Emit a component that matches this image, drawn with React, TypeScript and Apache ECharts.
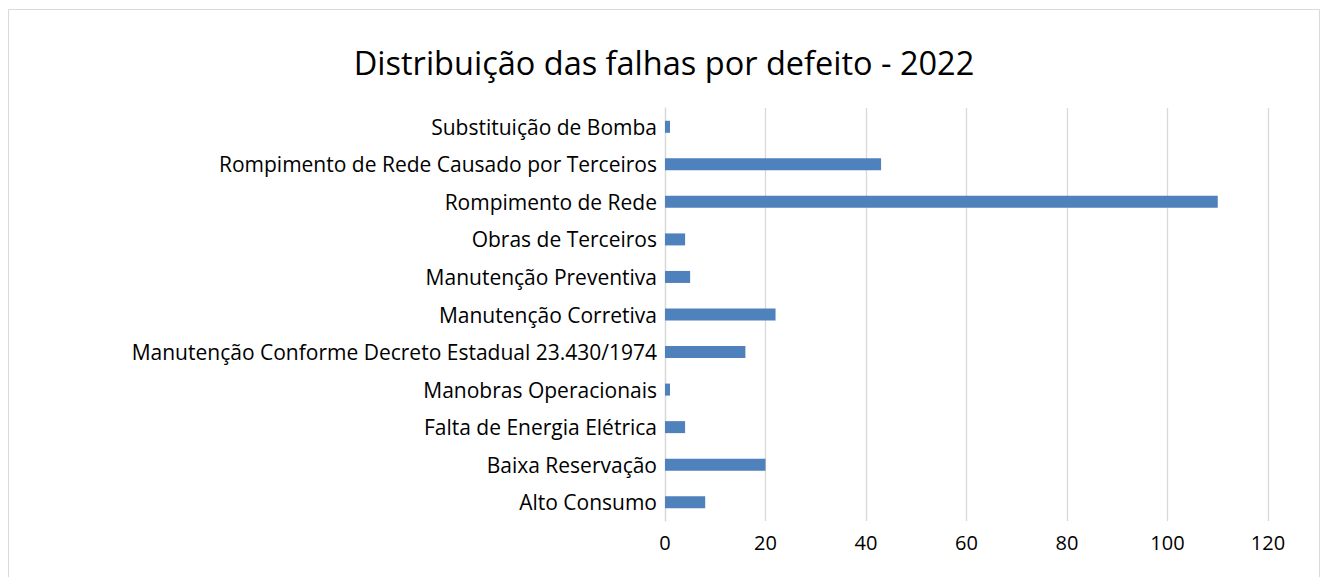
import React, { useEffect, useRef } from "react";
import * as echarts from "echarts";

const categories = [
  "Alto Consumo",
  "Baixa Reservação",
  "Falta de Energia Elétrica",
  "Manobras Operacionais",
  "Manutenção Conforme Decreto Estadual 23.430/1974",
  "Manutenção Corretiva",
  "Manutenção Preventiva",
  "Obras de Terceiros",
  "Rompimento de Rede",
  "Rompimento de Rede Causado por Terceiros",
  "Substituição de Bomba",
];
const values = [8, 20, 4, 1, 16, 22, 5, 4, 110, 43, 1];
const xTicks = { min: 0, max: 120, interval: 20 };
const title = "Distribuição das falhas por defeito - 2022";

export default function App() {
  const ref = useRef<HTMLDivElement>(null);
  useEffect(() => {
    if (!ref.current) return;
    const chart = echarts.init(ref.current, null, { renderer: "svg" });
    const font = "'Open Sans', Lato, sans-serif";
    chart.setOption({
      animation: false,
      textStyle: { fontFamily: font },
      title: {
        text: title,
        left: "center",
        top: 33,
        textStyle: { fontFamily: font, fontSize: 32.5, fontWeight: "normal", color: "#000" },
      },
      graphic: [
        {
          type: "rect",
          shape: { x: 0.5, y: 1.5, width: 1311, height: 600 },
          style: { fill: "none", stroke: "#d9d9d9", lineWidth: 1 },
          silent: true,
        },
      ],
      grid: { left: 657, width: 603, top: 100, height: 413, containLabel: false },
      xAxis: {
        type: "value",
        min: xTicks.min,
        max: xTicks.max,
        interval: xTicks.interval,
        axisLine: { show: false },
        axisTick: { show: false },
        splitLine: { show: true, lineStyle: { color: "#d9d9d9", width: 1.3 } },
        axisLabel: { fontFamily: font, fontSize: 20, color: "#000", margin: 11 },
      },
      yAxis: {
        type: "category",
        data: categories,
        axisLine: { show: true, lineStyle: { color: "#d9d9d9", width: 1.3 } },
        axisTick: { show: false },
        axisLabel: { fontFamily: font, fontSize: 21, color: "#000", margin: 8 },
      },
      series: [
        {
          type: "bar",
          data: values,
          barWidth: 12,
          itemStyle: { color: "#4f81bd" },
        },
      ],
    });
    return () => chart.dispose();
  }, []);
  return <div ref={ref} style={{ width: 1312, height: 580 }} />;
}
